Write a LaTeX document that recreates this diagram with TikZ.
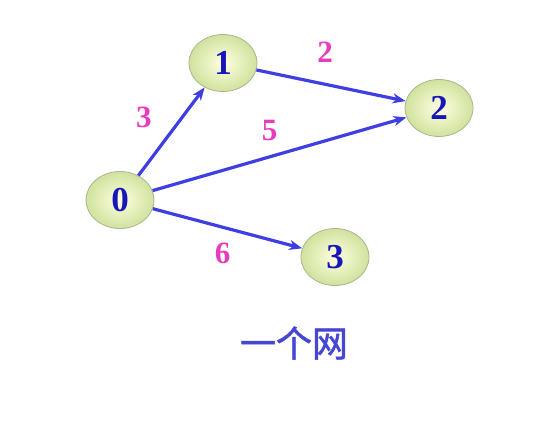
\documentclass[tikz,border=0pt]{standalone}
\usepackage{fontspec}
\setmainfont{Liberation Serif}
\newfontfamily\cjk[FakeBold=1.5]{Noto Sans CJK SC}
\usepackage{tikz}
\usetikzlibrary{positioning, shapes.geometric, arrows.meta, calc}

\definecolor{nodefill}{RGB}{208,226,158}
\definecolor{nodeline}{RGB}{170,182,140}
\definecolor{numblue}{RGB}{22,22,185}
\definecolor{arcblue}{RGB}{62,62,225}
\definecolor{wtpink}{RGB}{232,60,190}
\definecolor{capblue}{RGB}{70,70,210}

\begin{document}
\begin{tikzpicture}[
    x=1pt, y=-1pt,
    vertex/.style={ellipse, draw=nodeline, line width=0.8pt, inner color=yellow!12!white, outer color=nodefill,
        minimum width=68pt, minimum height=57pt, inner sep=0pt,
        font=\fontsize{35}{37}\selectfont\bfseries, text=numblue},
    arc/.style={-{Stealth[length=13pt, width=10pt, inset=4pt]}, line width=3.2pt, draw=arcblue},
    weight/.style={font=\fontsize{31}{33}\selectfont\bfseries, text=wtpink},
    caption/.style={font=\cjk\fontsize{36}{38}\selectfont, text=capblue}
]
\useasboundingbox (0,0) rectangle (553,431);

% Vertices
\node[vertex] (v0) at (120,200) {0};
\node[vertex] (v1) at (223,63) {1};
\node[vertex] (v2) at (439,108) {2};
\node[vertex] (v3) at (335,257) {3};

% Arcs
\draw[arc] (v0) -- node[weight, left=12pt, yshift=14pt, xshift=-3pt] {3} (v1);
\draw[arc] (v1) -- node[weight, above=18pt, xshift=-6pt] {2} (v2);
\draw[arc] (v0) -- node[weight, above=8pt, xshift=-10pt] {5} (v2);
\draw[arc] (v0) -- node[weight, below=10pt, xshift=-5pt] {6} (v3);

% Caption
\node[caption] (title) at (294,343) {一个网};

\end{tikzpicture}
\end{document}
